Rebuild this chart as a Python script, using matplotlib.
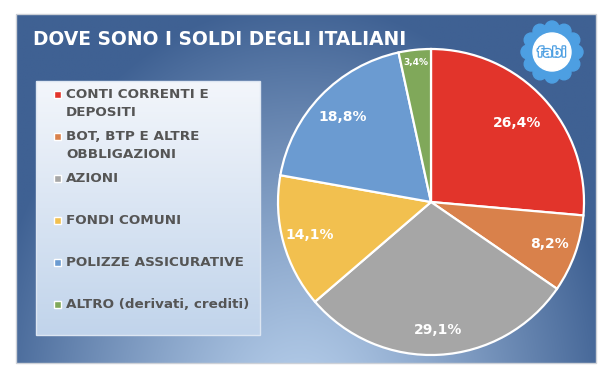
import numpy as np
import matplotlib
matplotlib.use('Agg')
import matplotlib.pyplot as plt
from matplotlib.patches import Rectangle, Circle
from matplotlib.colors import to_rgb
import matplotlib.patheffects as pe

# data
categories = ['CONTI CORRENTI E\nDEPOSITI', 'BOT, BTP E ALTRE\nOBBLIGAZIONI', 'AZIONI',
              'FONDI COMUNI', 'POLIZZE ASSICURATIVE', 'ALTRO (derivati, crediti)']
shares = [26.4, 8.2, 29.1, 14.1, 18.8, 3.4]
colors = ['#e2342b', '#d9814b', '#a6a6a6', '#f2c04f', '#6b9bd1', '#80a85a']
title = 'DOVE SONO I SOLDI DEGLI ITALIANI'

W, H = 612, 374
fig = plt.figure(figsize=(W / 100, H / 100), dpi=100)
fig.patch.set_facecolor('white')

# background axes in pixel coordinates
bg = fig.add_axes([0, 0, 1, 1])
bg.set_xlim(0, W)
bg.set_ylim(H, 0)
bg.axis('off')

# blue panel with a radial glow toward the bottom
px0, px1, py0, py1 = 16, 596, 14, 363
xx, yy = np.meshgrid(np.linspace(px0, px1, 300), np.linspace(py0, py1, 200))
d = np.sqrt(((xx - 300) / 320) ** 2 + ((yy - 420) / 420) ** 2)
t = np.clip(d, 0, 1)[..., None] ** 1.2
light = np.array(to_rgb('#b8d0ec'))
dark = np.array(to_rgb('#3f6193'))
img = light * (1 - t) + dark * t
bg.imshow(img, extent=(px0, px1, py1, py0), aspect='auto', interpolation='bilinear', zorder=0)
bg.add_patch(Rectangle((px0, py0), px1 - px0, py1 - py0, fill=False, ec='#cdd1d7', lw=1, zorder=1))

# legend box
lx0, lx1, ly0, ly1 = 36, 260, 81, 335
gy = np.linspace(0, 1, 100)[:, None, None]
top_c = np.array(to_rgb('#f3f6fb'))
bot_c = np.array(to_rgb('#c1d4eb'))
limg = np.repeat(top_c * (1 - gy) + bot_c * gy, 2, axis=1)
bg.imshow(limg, extent=(lx0, lx1, ly1, ly0), aspect='auto', interpolation='bilinear', zorder=2)
bg.add_patch(Rectangle((lx0, ly0), lx1 - lx0, ly1 - ly0, fill=False, ec='#dde6f2', lw=1, zorder=3))

for i, (lab, col) in enumerate(zip(categories, colors)):
    y = 94 + 42 * i
    bg.add_patch(Rectangle((54, y - 3.5), 7, 7, fc=col, ec='white', lw=1, zorder=4))
    bg.text(66, y - 6, lab, ha='left', va='top', fontsize=9.7, fontweight='bold',
            color='#555555', family='DejaVu Sans', linespacing=1.45, zorder=4)

# title
bg.text(33, 45, title, ha='left', va='baseline', fontsize=13.4, fontweight='bold',
        color='white', family='DejaVu Sans', zorder=4)

# logo
lcx, lcy = 552, 52
petal = '#4d9fe2'
for a in np.linspace(0, 2 * np.pi, 12, endpoint=False):
    bg.add_patch(Circle((lcx + 24 * np.cos(a), lcy + 24 * np.sin(a)), 7, color=petal, zorder=4))
bg.add_patch(Circle((lcx, lcy), 22, color=petal, zorder=4))
bg.add_patch(Circle((lcx, lcy), 19, color='white', zorder=5))
bg.text(lcx, lcy + 1, 'fabi', ha='center', va='center', fontsize=9.5, fontweight='bold',
        color='white', zorder=6,
        path_effects=[pe.withStroke(linewidth=1.8, foreground=petal)])

# pie
cx, cy, r = 431, 202, 153
pad = 4
pax = fig.add_axes([(cx - r - pad) / W, (H - cy - r - pad) / H, 2 * (r + pad) / W, 2 * (r + pad) / H])
pax.set_facecolor('none')
wedges, _ = pax.pie(shares, colors=colors, startangle=90, counterclock=False,
                    wedgeprops=dict(edgecolor='white', linewidth=1.6))
lim = (r + pad) / r
pax.set_xlim(-lim, lim)
pax.set_ylim(-lim, lim)
pax.axis('off')

label_dist = [0.76, 0.82, 0.84, 0.82, 0.80, 0.92]
for w, v, dist in zip(wedges, shares, label_dist):
    ang = np.deg2rad((w.theta1 + w.theta2) / 2)
    txt = f'{v:.1f}'.replace('.', ',') + '%'
    fs = 6.5 if v < 5 else 10
    pax.text(dist * np.cos(ang), dist * np.sin(ang), txt, ha='center', va='center',
             fontsize=fs, fontweight='bold', color='white')

fig.savefig('out.png', dpi=100)
